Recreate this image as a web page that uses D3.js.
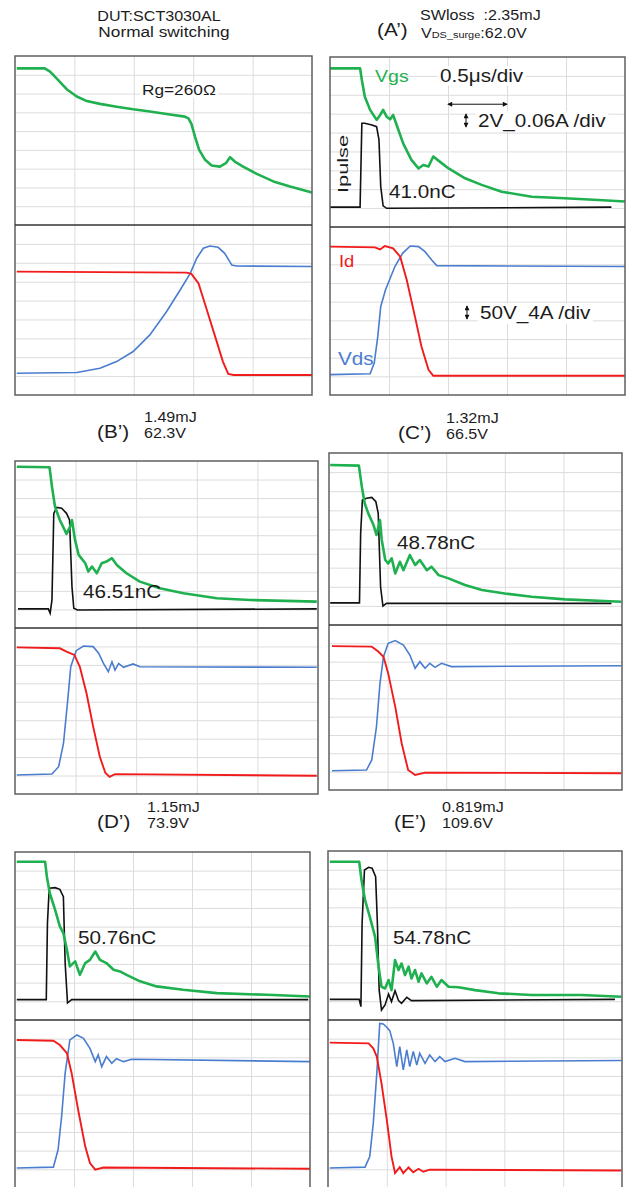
<!DOCTYPE html>
<html>
<head>
<meta charset="utf-8">
<script src="https://cdn.jsdelivr.net/npm/d3@7"></script>
<style>
  body { margin: 0; background: #fff; }
  svg { display: block; }
  text { font-family: "Liberation Sans", Arial, sans-serif; white-space: pre; }
</style>
</head>
<body>
<svg id="chart" width="630" height="1187"></svg>
<script>
// All traces read off the scope screens, [time in div, level in div]
// 0.5us/div horizontally, 9 div per half-screen vertically

// Normal switching (Rg=260 ohm)
const vgsNormal = [[0.03,8.34],[0.5,8.34],[0.59,8.17],[0.7,7.81],[0.87,7.23],[1.04,6.84],[1.21,6.6],[1.43,6.45],[1.71,6.3],[1.99,6.16],[2.27,6.04],[2.55,5.91],[2.86,5.77],[2.92,5.68],[2.97,5.38],[3.03,4.71],[3.1,4.0],[3.2,3.47],[3.31,3.17],[3.45,3.11],[3.55,3.29],[3.62,3.61],[3.7,3.38],[3.84,3.11],[4.07,2.72],[4.35,2.32],[4.63,2.05],[5.0,1.73]];
const idNormal = [[0.03,6.53],[2.89,6.48],[2.97,6.41],[3.09,5.91],[3.23,4.5],[3.37,3.09],[3.5,1.77],[3.59,1.12],[3.68,1.06],[5.0,1.06]];
const vdsNormal = [[0.03,1.15],[1.04,1.19],[1.43,1.42],[1.71,1.77],[1.99,2.3],[2.27,3.18],[2.55,4.41],[2.78,5.56],[2.95,6.44],[3.06,7.24],[3.17,7.77],[3.28,7.89],[3.42,7.82],[3.53,7.5],[3.65,6.88],[3.73,6.83],[5.0,6.8]];

// (A')
const vgsA = [[0.0,8.4],[0.51,8.4],[0.54,7.78],[0.59,6.9],[0.68,6.2],[0.79,5.67],[0.85,5.93],[0.9,6.2],[0.96,5.84],[1.02,5.7],[1.07,5.93],[1.13,5.4],[1.24,4.43],[1.38,3.55],[1.5,3.1],[1.58,3.28],[1.67,3.2],[1.75,3.73],[1.86,3.46],[2.01,3.1],[2.29,2.58],[2.57,2.23],[2.91,1.87],[3.42,1.6],[3.98,1.52],[4.55,1.43],[5.0,1.35]];
const ipulseA = [[0,1.05],[0.51,1.05],[0.54,5.49],[0.59,5.49],[0.71,5.4],[0.79,5.31],[0.83,4.61],[0.86,2.14],[0.9,1.12],[0.96,0.99],[4.77,1.05]];
const idA = [[0,7.95],[0.76,7.91],[0.85,7.8],[0.93,7.98],[1.07,7.86],[1.19,7.41],[1.3,6.17],[1.44,4.2],[1.55,2.6],[1.67,1.35],[1.75,1.03],[5.0,1.03]];
const vdsA = [[0,1.09],[0.68,1.14],[0.75,1.71],[0.81,3.14],[0.86,4.74],[0.94,5.63],[1.1,6.88],[1.23,7.59],[1.36,7.98],[1.5,7.95],[1.61,7.68],[1.72,7.24],[1.81,6.93],[5.0,6.88]];

// (B')
const vgsB = [[0.03,8.69],[0.57,8.66],[0.61,7.62],[0.66,6.54],[0.74,5.82],[0.85,5.07],[0.91,5.46],[0.94,5.82],[0.99,4.75],[1.05,3.94],[1.16,3.49],[1.21,3.04],[1.27,3.31],[1.35,2.95],[1.43,3.49],[1.51,3.58],[1.6,3.76],[1.68,3.4],[1.84,2.95],[2.06,2.5],[2.39,2.14],[2.78,1.87],[3.33,1.6],[3.88,1.51],[4.98,1.42]];
const ipulseB = [[0.05,1.03],[0.55,1.03],[0.58,0.8],[0.61,1.51],[0.64,6.18],[0.69,6.5],[0.77,6.45],[0.85,6.18],[0.9,5.82],[0.94,2.23],[0.97,1.06],[1.03,0.97],[4.98,1.03]];
const idB = [[0.03,7.95],[0.74,7.9],[0.85,7.72],[0.98,7.54],[1.07,6.9],[1.18,5.46],[1.29,3.65],[1.4,2.02],[1.49,1.15],[1.56,0.93],[1.65,1.08],[4.98,0.99]];
const vdsB = [[0.03,1.03],[0.61,1.08],[0.72,1.48],[0.8,2.74],[0.87,5.09],[0.92,6.9],[1.01,7.77],[1.13,8.02],[1.29,7.99],[1.38,7.63],[1.46,7.08],[1.54,6.63],[1.6,7.17],[1.65,6.72],[1.71,7.08],[1.79,6.87],[1.95,7.05],[2.06,6.9],[4.98,6.87]];

// (C')
const vgsC = [[0.02,8.37],[0.51,8.34],[0.56,7.24],[0.61,6.36],[0.67,5.84],[0.76,5.23],[0.81,4.71],[0.87,5.49],[0.9,4.45],[0.96,3.4],[1.01,3.22],[1.07,3.49],[1.13,2.7],[1.21,3.31],[1.27,2.87],[1.38,3.66],[1.47,3.14],[1.55,3.4],[1.67,2.87],[1.75,3.05],[1.87,2.61],[2.04,2.44],[2.32,2.09],[2.61,1.83],[3.0,1.65],[3.46,1.48],[4.03,1.34],[4.99,1.22]];
const ipulseC = [[0.02,1.16],[0.52,1.16],[0.54,4.79],[0.57,6.54],[0.64,6.63],[0.73,6.68],[0.8,6.45],[0.84,5.84],[0.88,2.0],[0.92,0.99],[0.98,1.13],[4.82,1.13]];
const idC = [[0.05,7.85],[0.73,7.82],[0.84,7.55],[0.93,7.27],[1.01,6.36],[1.13,4.55],[1.24,2.55],[1.35,1.09],[1.47,0.82],[1.64,0.95],[4.99,0.91]];
const vdsC = [[0.05,1.05],[0.64,1.09],[0.73,1.64],[0.81,3.45],[0.87,5.82],[0.93,7.27],[1.01,8.0],[1.13,8.15],[1.27,7.91],[1.38,7.36],[1.47,6.64],[1.55,7.0],[1.64,6.64],[1.72,6.91],[1.81,6.69],[1.92,6.91],[2.09,6.73],[4.99,6.78]];

// (D')
const vgsD = [[0.03,8.48],[0.51,8.48],[0.54,7.68],[0.59,6.79],[0.68,5.9],[0.76,5.01],[0.82,4.65],[0.88,3.76],[0.93,2.87],[1.02,3.14],[1.1,2.42],[1.19,3.05],[1.27,3.22],[1.36,3.67],[1.44,3.22],[1.55,3.05],[1.67,2.69],[1.78,2.6],[1.89,2.42],[2.12,2.07],[2.4,1.8],[2.85,1.62],[3.42,1.44],[4.27,1.35],[5.0,1.26]];
const ipulseD = [[0.03,1.09],[0.53,1.09],[0.55,5.19],[0.58,7.06],[0.68,7.09],[0.76,7.0],[0.82,6.61],[0.85,3.05],[0.89,0.91],[0.96,1.09],[4.97,1.09]];
const idD = [[0.03,7.93],[0.65,7.89],[0.76,7.66],[0.88,7.22],[0.96,6.15],[1.07,4.19],[1.19,2.23],[1.27,1.34],[1.36,0.98],[1.5,1.1],[5.0,1.03]];
const vdsD = [[0.03,1.07],[0.65,1.12],[0.73,2.05],[0.79,3.83],[0.85,6.15],[0.93,7.93],[1.05,8.2],[1.16,8.02],[1.27,7.48],[1.36,6.77],[1.41,7.13],[1.47,6.5],[1.55,7.04],[1.64,6.68],[1.72,6.93],[1.84,6.77],[1.98,6.9],[5.0,6.77]];

// (E')
const vgsE = [[0.03,8.43],[0.53,8.43],[0.57,7.45],[0.63,6.39],[0.71,5.5],[0.8,4.44],[0.86,2.84],[0.91,1.77],[0.97,1.68],[1.03,2.13],[1.08,1.59],[1.14,3.19],[1.2,2.66],[1.25,3.01],[1.31,2.39],[1.37,2.84],[1.42,2.21],[1.48,2.66],[1.54,2.04],[1.59,2.48],[1.68,1.95],[1.76,2.3],[1.85,1.77],[1.93,2.13],[2.05,1.77],[2.22,1.74],[2.5,1.59],[2.9,1.42],[3.46,1.33],[4.31,1.33],[4.99,1.24]];
const ipulseE = [[0.03,1.1],[0.53,1.1],[0.56,0.71],[0.58,5.15],[0.62,7.99],[0.69,8.13],[0.75,8.08],[0.81,7.63],[0.84,5.15],[0.87,1.6],[0.91,0.53],[0.97,0.8],[1.03,1.38],[1.08,0.98],[1.14,1.56],[1.2,1.03],[1.25,0.89],[1.34,1.21],[1.42,1.03],[4.88,1.1]];
const idE = [[0.03,7.79],[0.69,7.75],[0.77,7.48],[0.83,7.04],[0.91,5.61],[1.0,3.65],[1.08,1.69],[1.14,0.8],[1.22,1.12],[1.28,0.8],[1.37,1.1],[1.45,0.84],[1.54,1.03],[1.62,0.87],[1.73,0.98],[4.99,0.94]];
const vdsE = [[0.03,1.07],[0.63,1.12],[0.71,1.69],[0.77,3.47],[0.83,6.15],[0.88,8.82],[0.94,8.79],[1.0,8.61],[1.05,8.43],[1.11,7.75],[1.17,6.5],[1.22,7.57],[1.28,6.33],[1.34,7.4],[1.39,6.5],[1.45,7.31],[1.51,6.59],[1.56,7.22],[1.65,6.68],[1.73,7.13],[1.82,6.77],[1.9,7.04],[1.99,6.77],[2.16,6.95],[2.33,6.77],[4.99,6.83]];

const panelTitles = ["(A\u2019)", "(B\u2019)", "(C\u2019)", "(D\u2019)", "(E\u2019)"];
const swLoss = ["2.35mJ", "1.49mJ", "1.32mJ", "1.15mJ", "0.819mJ"];
const vdsSurge = ["62.0V", "62.3V", "66.5V", "73.9V", "109.6V"];
const gateCharge = ["41.0nC", "46.51nC", "48.78nC", "50.76nC", "54.78nC"];

const colors = { vgs: "#1fb04f", ipulse: "#111", id: "#f21b1b", vds: "#4a7dcf", text: "#1c1c1c" };
const SX = 1.15; // the figure is a bit stretched horizontally

const svg = d3.select("#chart");

const defs = svg.append("defs");
defs.append("marker")
  .attr("id", "arr")
  .attr("viewBox", "0 0 6 6")
  .attr("refX", 5).attr("refY", 3)
  .attr("markerWidth", 6).attr("markerHeight", 5)
  .attr("markerUnits", "userSpaceOnUse")
  .attr("orient", "auto-start-reverse")
  .append("path").attr("d", "M0,0L6,3L0,6z").attr("fill", "#111");

// screen boxes (layout only)
const screens = [
  { x0: 15, x1: 312, y0: 56, ym: 225, y1: 395, vgs: vgsNormal, id: idNormal, vds: vdsNormal },
  { x0: 330, x1: 625, y0: 57, ym: 227, y1: 395, vgs: vgsA, ip: ipulseA, id: idA, vds: vdsA },
  { x0: 15, x1: 318, y0: 461, ym: 628, y1: 794, vgs: vgsB, ip: ipulseB, id: idB, vds: vdsB },
  { x0: 329, x1: 622, y0: 453, ym: 625, y1: 790, vgs: vgsC, ip: ipulseC, id: idC, vds: vdsC },
  { x0: 15, x1: 310, y0: 852, ym: 1020, y1: 1188, vgs: vgsD, ip: ipulseD, id: idD, vds: vdsD },
  { x0: 328, x1: 622, y0: 851, ym: 1020, y1: 1188, vgs: vgsE, ip: ipulseE, id: idE, vds: vdsE }
];

function drawScreen(s) {
  const g = svg.append("g");
  s.x = d3.scaleLinear().domain([0, 5]).range([s.x0, s.x1]);
  s.yTop = d3.scaleLinear().domain([0, 9]).range([s.ym, s.y0]);
  s.yBot = d3.scaleLinear().domain([0, 9]).range([s.y1, s.ym]);

  g.append("rect")
    .attr("x", s.x0).attr("y", s.y0)
    .attr("width", s.x1 - s.x0).attr("height", s.y1 - s.y0)
    .attr("fill", "#fff");

  // grid through axes
  const grid = [];
  grid.push(g.append("g")
    .attr("transform", `translate(0,${s.y1})`)
    .call(d3.axisBottom(s.x).tickValues([1, 2, 3, 4]).tickSize(-(s.y1 - s.y0)).tickFormat("")));
  [s.yTop, s.yBot].forEach(y => {
    grid.push(g.append("g")
      .attr("transform", `translate(${s.x0},0)`)
      .call(d3.axisLeft(y).tickValues(d3.range(1, 9)).tickSize(-(s.x1 - s.x0)).tickFormat("")));
  });
  grid.forEach(a => {
    a.select(".domain").remove();
    a.selectAll(".tick line").attr("stroke", "#dcdcdc").attr("stroke-width", 1);
  });

  const line = y => d3.line().x(d => s.x(d[0])).y(d => y(d[1]));

  if (s.ip) {
    g.append("path").datum(s.ip).attr("d", line(s.yTop))
      .attr("fill", "none").attr("stroke", colors.ipulse).attr("stroke-width", 1.6);
  }
  g.append("path").datum(s.vgs).attr("d", line(s.yTop))
    .attr("fill", "none").attr("stroke", colors.vgs).attr("stroke-width", 2.6)
    .attr("stroke-linejoin", "round");
  g.append("path").datum(s.vds).attr("d", line(s.yBot))
    .attr("fill", "none").attr("stroke", colors.vds).attr("stroke-width", 1.6);
  g.append("path").datum(s.id).attr("d", line(s.yBot))
    .attr("fill", "none").attr("stroke", colors.id).attr("stroke-width", 1.9);

  g.append("rect")
    .attr("x", s.x0).attr("y", s.y0)
    .attr("width", s.x1 - s.x0).attr("height", s.y1 - s.y0)
    .attr("fill", "none").attr("stroke", "#5f5f5f").attr("stroke-width", 1.5);
  g.append("line")
    .attr("x1", s.x0).attr("x2", s.x1).attr("y1", s.ym).attr("y2", s.ym)
    .attr("stroke", "#333").attr("stroke-width", 1.6);
}

screens.forEach(drawScreen);

function label(x, y, str, size, color, bg) {
  const t = svg.append("text")
    .attr("transform", `translate(${x},${y}) scale(${SX},1)`)
    .attr("font-size", size)
    .attr("fill", color || colors.text)
    .text(str);
  if (bg) {
    const b = t.node().getBBox();
    svg.insert("rect", () => t.node())
      .attr("transform", `translate(${x},${y}) scale(${SX},1)`)
      .attr("x", b.x - 2).attr("y", b.y + 1)
      .attr("width", b.width + 4).attr("height", b.height - 1)
      .attr("fill", "#fff");
  }
  return t;
}

// header
label(159, 21, "DUT:SCT3030AL", 14).attr("text-anchor", "middle");
label(164, 37, "Normal switching", 15).attr("text-anchor", "middle");
label(377, 36, panelTitles[0], 18);
label(420, 20, "SWloss\u00a0\u00a0:" + swLoss[0], 14);
const vs = label(421, 37.5, "V", 14);
vs.append("tspan").attr("font-size", 9.5).text("DS_surge");
vs.append("tspan").text(":" + vdsSurge[0]);

// small titles of B'..E'
const titlePos = [null, [97, 438, 144], [398, 439, 446], [97, 828, 147], [394, 828, 442]];
for (let i = 1; i < 5; i++) {
  const [tx, ty, vx] = titlePos[i];
  label(tx, ty, panelTitles[i], 18);
  label(vx, ty - 16, swLoss[i], 14);
  label(vx, ty, vdsSurge[i], 14);
}

// annotations of the normal screen
label(142, 95, "Rg=260\u03a9", 15, null, true);

// annotations of A'
const A = screens[1];
label(375, 82, "Vgs", 17, colors.vgs);
label(440, 82, "0.5\u03bcs/div", 18, null, true);
svg.append("line")
  .attr("x1", A.x(2)).attr("x2", A.x(3)).attr("y1", A.yTop(6.5)).attr("y2", A.yTop(6.5))
  .attr("stroke", "#111").attr("stroke-width", 1)
  .attr("marker-start", "url(#arr)").attr("marker-end", "url(#arr)");
label(478, 127, "2V_0.06A /div", 18, null, true);
svg.append("line")
  .attr("x1", 466).attr("x2", 466).attr("y1", 114).attr("y2", 127)
  .attr("stroke", "#111").attr("stroke-width", 1)
  .attr("marker-start", "url(#arr)").attr("marker-end", "url(#arr)");
svg.append("text")
  .attr("transform", `translate(348,164) rotate(-90) scale(1.45,1)`)
  .attr("font-size", 15).attr("fill", colors.text).attr("text-anchor", "middle")
  .text("Ipulse");
label(389, 198, gateCharge[0], 18);
label(339, 266.5, "Id", 16, colors.id);
label(480, 319, "50V_4A /div", 18, null, true);
svg.append("line")
  .attr("x1", 467).attr("x2", 467).attr("y1", 306).attr("y2", 319)
  .attr("stroke", "#111").attr("stroke-width", 1)
  .attr("marker-start", "url(#arr)").attr("marker-end", "url(#arr)");
label(338, 365, "Vds", 18, colors.vds);

// gate charge of B'..E'
label(83, 598, gateCharge[1], 18);
label(397, 549, gateCharge[2], 18);
label(78, 944, gateCharge[3], 18);
label(393, 944, gateCharge[4], 18);
</script>
</body>
</html>
